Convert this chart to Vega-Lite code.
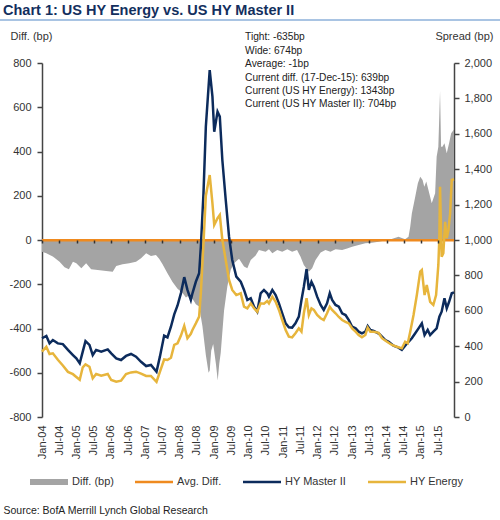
{
  "$schema": "https://vega.github.io/schema/vega-lite/v6.json",
  "width": 412,
  "height": 354,
  "autosize": {"type": "none"},
  "padding": {"left": 42, "top": 63, "right": 46, "bottom": 103},
  "background": "white",
  "config": {"view": {"stroke": null}, "font": "Liberation Sans", "axis": {"labelOverlap": false}, "axisQuantitative": {"labelOverlap": false}},
  "title": {
    "text": "Chart 1: US HY Energy vs. US HY Master II",
    "anchor": "start",
    "frame": "group",
    "font": "Liberation Sans",
    "fontSize": 14.5,
    "fontWeight": "bold",
    "color": "#132f5e",
    "dx": -39,
    "dy": 3,
    "offset": 4
  },
  "datasets": {
    "master": [
      {"date": "2004-01-01", "spread": 445}, {"date": "2004-02-16", "spread": 458}, {"date": "2004-03-21", "spread": 416},
      {"date": "2004-04-25", "spread": 435}, {"date": "2004-06-17", "spread": 416}, {"date": "2004-08-09", "spread": 412},
      {"date": "2004-10-02", "spread": 379}, {"date": "2004-11-24", "spread": 350}, {"date": "2004-12-30", "spread": 331},
      {"date": "2005-02-04", "spread": 303}, {"date": "2005-03-08", "spread": 369}, {"date": "2005-04-06", "spread": 429},
      {"date": "2005-05-18", "spread": 407}, {"date": "2005-06-22", "spread": 350}, {"date": "2005-07-28", "spread": 379},
      {"date": "2005-09-20", "spread": 369}, {"date": "2005-11-28", "spread": 382}, {"date": "2006-01-04", "spread": 360},
      {"date": "2006-02-26", "spread": 331}, {"date": "2006-04-18", "spread": 322}, {"date": "2006-06-10", "spread": 345},
      {"date": "2006-08-02", "spread": 356}, {"date": "2006-09-24", "spread": 341}, {"date": "2006-11-16", "spread": 312},
      {"date": "2007-01-09", "spread": 288}, {"date": "2007-03-01", "spread": 294}, {"date": "2007-04-29", "spread": 256},
      {"date": "2007-06-04", "spread": 341}, {"date": "2007-07-19", "spread": 460}, {"date": "2007-08-23", "spread": 450},
      {"date": "2007-09-29", "spread": 510}, {"date": "2007-11-03", "spread": 580}, {"date": "2007-12-08", "spread": 630},
      {"date": "2008-01-13", "spread": 700}, {"date": "2008-02-17", "spread": 790}, {"date": "2008-03-22", "spread": 718},
      {"date": "2008-04-27", "spread": 661}, {"date": "2008-05-14", "spread": 699}, {"date": "2008-06-19", "spread": 764},
      {"date": "2008-07-24", "spread": 812}, {"date": "2008-08-11", "spread": 962}, {"date": "2008-09-08", "spread": 1264},
      {"date": "2008-10-03", "spread": 1640}, {"date": "2008-11-13", "spread": 1960}, {"date": "2008-12-12", "spread": 1810},
      {"date": "2008-12-31", "spread": 1612}, {"date": "2009-02-04", "spread": 1725}, {"date": "2009-02-28", "spread": 1697},
      {"date": "2009-03-27", "spread": 1452}, {"date": "2009-05-02", "spread": 1226}, {"date": "2009-06-06", "spread": 1019},
      {"date": "2009-07-10", "spread": 887}, {"date": "2009-08-22", "spread": 793}, {"date": "2009-10-08", "spread": 764},
      {"date": "2009-11-12", "spread": 718}, {"date": "2009-12-17", "spread": 661}, {"date": "2010-01-22", "spread": 671},
      {"date": "2010-02-26", "spread": 623}, {"date": "2010-04-01", "spread": 595}, {"date": "2010-05-07", "spread": 699},
      {"date": "2010-06-11", "spread": 718}, {"date": "2010-07-16", "spread": 699}, {"date": "2010-08-03", "spread": 680},
      {"date": "2010-09-08", "spread": 718}, {"date": "2010-10-13", "spread": 689}, {"date": "2010-11-17", "spread": 642},
      {"date": "2010-12-22", "spread": 586}, {"date": "2011-01-27", "spread": 529}, {"date": "2011-03-02", "spread": 507},
      {"date": "2011-04-06", "spread": 505}, {"date": "2011-05-11", "spread": 529}, {"date": "2011-06-16", "spread": 567},
      {"date": "2011-07-14", "spread": 661}, {"date": "2011-08-08", "spread": 736}, {"date": "2011-09-06", "spread": 836},
      {"date": "2011-09-30", "spread": 718}, {"date": "2011-10-28", "spread": 764}, {"date": "2011-11-22", "spread": 736},
      {"date": "2011-12-27", "spread": 680}, {"date": "2012-02-02", "spread": 633}, {"date": "2012-03-06", "spread": 605},
      {"date": "2012-04-10", "spread": 642}, {"date": "2012-05-09", "spread": 699}, {"date": "2012-06-03", "spread": 661},
      {"date": "2012-07-09", "spread": 633}, {"date": "2012-08-13", "spread": 623}, {"date": "2012-09-17", "spread": 586},
      {"date": "2012-10-23", "spread": 576}, {"date": "2012-11-27", "spread": 548}, {"date": "2013-01-01", "spread": 510},
      {"date": "2013-02-07", "spread": 501}, {"date": "2013-03-11", "spread": 482}, {"date": "2013-04-15", "spread": 473},
      {"date": "2013-05-21", "spread": 482}, {"date": "2013-06-15", "spread": 514}, {"date": "2013-07-13", "spread": 492},
      {"date": "2013-08-17", "spread": 486}, {"date": "2013-10-15", "spread": 470}, {"date": "2013-12-19", "spread": 435},
      {"date": "2014-01-24", "spread": 425}, {"date": "2014-03-16", "spread": 403}, {"date": "2014-05-08", "spread": 392},
      {"date": "2014-06-12", "spread": 379}, {"date": "2014-07-17", "spread": 403}, {"date": "2014-08-22", "spread": 425},
      {"date": "2014-09-26", "spread": 445}, {"date": "2014-11-01", "spread": 473}, {"date": "2014-12-06", "spread": 501},
      {"date": "2015-01-10", "spread": 529}, {"date": "2015-02-08", "spread": 463}, {"date": "2015-03-13", "spread": 492},
      {"date": "2015-04-08", "spread": 463}, {"date": "2015-05-12", "spread": 482}, {"date": "2015-06-16", "spread": 501},
      {"date": "2015-07-15", "spread": 567}, {"date": "2015-08-08", "spread": 595}, {"date": "2015-09-07", "spread": 671},
      {"date": "2015-10-01", "spread": 614}, {"date": "2015-10-26", "spread": 651}, {"date": "2015-11-23", "spread": 699},
      {"date": "2015-12-17", "spread": 704}
    ],
    "energy": [
      {"date": "2004-01-01", "spread": 369}, {"date": "2004-02-16", "spread": 397}, {"date": "2004-03-21", "spread": 356},
      {"date": "2004-04-25", "spread": 360}, {"date": "2004-06-17", "spread": 323}, {"date": "2004-08-09", "spread": 291},
      {"date": "2004-10-02", "spread": 255}, {"date": "2004-11-24", "spread": 242}, {"date": "2004-12-30", "spread": 226},
      {"date": "2005-02-04", "spread": 210}, {"date": "2005-03-08", "spread": 281}, {"date": "2005-04-06", "spread": 297},
      {"date": "2005-05-18", "spread": 284}, {"date": "2005-06-22", "spread": 219}, {"date": "2005-07-28", "spread": 243},
      {"date": "2005-09-20", "spread": 233}, {"date": "2005-11-28", "spread": 243}, {"date": "2006-01-04", "spread": 209},
      {"date": "2006-02-26", "spread": 199}, {"date": "2006-04-18", "spread": 205}, {"date": "2006-06-10", "spread": 243},
      {"date": "2006-08-02", "spread": 252}, {"date": "2006-09-24", "spread": 256}, {"date": "2006-11-16", "spread": 245},
      {"date": "2007-01-09", "spread": 232}, {"date": "2007-03-01", "spread": 232}, {"date": "2007-04-29", "spread": 199},
      {"date": "2007-06-04", "spread": 255}, {"date": "2007-07-19", "spread": 325}, {"date": "2007-08-23", "spread": 322},
      {"date": "2007-09-29", "spread": 335}, {"date": "2007-11-03", "spread": 407}, {"date": "2007-12-08", "spread": 416},
      {"date": "2008-01-13", "spread": 460}, {"date": "2008-02-17", "spread": 515}, {"date": "2008-03-22", "spread": 445},
      {"date": "2008-04-27", "spread": 470}, {"date": "2008-05-14", "spread": 492}, {"date": "2008-06-19", "spread": 529},
      {"date": "2008-07-24", "spread": 567}, {"date": "2008-08-11", "spread": 699}, {"date": "2008-09-08", "spread": 980},
      {"date": "2008-10-03", "spread": 1250}, {"date": "2008-11-13", "spread": 1367}, {"date": "2008-12-12", "spread": 1207},
      {"date": "2008-12-31", "spread": 1085}, {"date": "2009-02-04", "spread": 1123}, {"date": "2009-02-28", "spread": 1141},
      {"date": "2009-03-27", "spread": 1000}, {"date": "2009-05-02", "spread": 887}, {"date": "2009-06-06", "spread": 774},
      {"date": "2009-07-10", "spread": 718}, {"date": "2009-08-22", "spread": 689}, {"date": "2009-10-08", "spread": 699},
      {"date": "2009-11-12", "spread": 623}, {"date": "2009-12-17", "spread": 614}, {"date": "2010-01-22", "spread": 642},
      {"date": "2010-02-26", "spread": 614}, {"date": "2010-04-01", "spread": 595}, {"date": "2010-05-07", "spread": 642},
      {"date": "2010-06-11", "spread": 640}, {"date": "2010-07-16", "spread": 655}, {"date": "2010-08-03", "spread": 642},
      {"date": "2010-09-08", "spread": 680}, {"date": "2010-10-13", "spread": 651}, {"date": "2010-11-17", "spread": 605},
      {"date": "2010-12-22", "spread": 548}, {"date": "2011-01-27", "spread": 492}, {"date": "2011-03-02", "spread": 454},
      {"date": "2011-04-06", "spread": 450}, {"date": "2011-05-11", "spread": 473}, {"date": "2011-06-16", "spread": 501},
      {"date": "2011-07-14", "spread": 482}, {"date": "2011-08-08", "spread": 586}, {"date": "2011-09-06", "spread": 671},
      {"date": "2011-09-30", "spread": 576}, {"date": "2011-10-28", "spread": 614}, {"date": "2011-11-22", "spread": 605},
      {"date": "2011-12-27", "spread": 576}, {"date": "2012-02-02", "spread": 558}, {"date": "2012-03-06", "spread": 548},
      {"date": "2012-04-10", "spread": 586}, {"date": "2012-05-09", "spread": 623}, {"date": "2012-06-03", "spread": 605},
      {"date": "2012-07-09", "spread": 586}, {"date": "2012-08-13", "spread": 565}, {"date": "2012-09-17", "spread": 548},
      {"date": "2012-10-23", "spread": 538}, {"date": "2012-11-27", "spread": 529}, {"date": "2013-01-01", "spread": 501},
      {"date": "2013-02-07", "spread": 482}, {"date": "2013-03-11", "spread": 463}, {"date": "2013-04-15", "spread": 450},
      {"date": "2013-05-21", "spread": 463}, {"date": "2013-06-15", "spread": 505}, {"date": "2013-07-13", "spread": 482},
      {"date": "2013-08-17", "spread": 482}, {"date": "2013-10-09", "spread": 476}, {"date": "2013-11-13", "spread": 445},
      {"date": "2014-01-06", "spread": 425}, {"date": "2014-02-27", "spread": 407}, {"date": "2014-04-20", "spread": 397},
      {"date": "2014-06-12", "spread": 388}, {"date": "2014-07-17", "spread": 425}, {"date": "2014-08-14", "spread": 416},
      {"date": "2014-09-09", "spread": 482}, {"date": "2014-10-14", "spread": 576}, {"date": "2014-11-18", "spread": 689},
      {"date": "2014-12-24", "spread": 821}, {"date": "2015-01-10", "spread": 830}, {"date": "2015-02-08", "spread": 689},
      {"date": "2015-03-03", "spread": 746}, {"date": "2015-04-08", "spread": 651}, {"date": "2015-05-12", "spread": 633},
      {"date": "2015-06-10", "spread": 689}, {"date": "2015-07-04", "spread": 859}, {"date": "2015-07-15", "spread": 1019},
      {"date": "2015-07-22", "spread": 1301}, {"date": "2015-08-08", "spread": 905}, {"date": "2015-08-26", "spread": 925},
      {"date": "2015-09-14", "spread": 1103}, {"date": "2015-10-01", "spread": 1010}, {"date": "2015-10-19", "spread": 1056},
      {"date": "2015-11-06", "spread": 1151}, {"date": "2015-11-23", "spread": 1339}, {"date": "2015-12-17", "spread": 1343}
    ],
    "diff": [
      {"date": "2004-01-01", "diff": -53}, {"date": "2004-02-16", "diff": -60}, {"date": "2004-04-25", "diff": -75},
      {"date": "2004-07-05", "diff": -98}, {"date": "2004-08-27", "diff": -123}, {"date": "2004-10-12", "diff": -132},
      {"date": "2004-11-24", "diff": -98}, {"date": "2004-12-30", "diff": -105}, {"date": "2005-02-21", "diff": -128},
      {"date": "2005-04-13", "diff": -105}, {"date": "2005-06-05", "diff": -132}, {"date": "2005-08-14", "diff": -136},
      {"date": "2005-11-11", "diff": -140}, {"date": "2006-01-20", "diff": -143}, {"date": "2006-02-26", "diff": -118},
      {"date": "2006-05-04", "diff": -110}, {"date": "2006-07-14", "diff": -105}, {"date": "2006-09-24", "diff": -98},
      {"date": "2006-11-16", "diff": -83}, {"date": "2007-01-09", "diff": -60}, {"date": "2007-03-01", "diff": -72},
      {"date": "2007-04-23", "diff": -68}, {"date": "2007-05-27", "diff": -85}, {"date": "2007-07-02", "diff": -110},
      {"date": "2007-08-23", "diff": -150}, {"date": "2007-10-16", "diff": -190}, {"date": "2007-12-08", "diff": -220},
      {"date": "2008-01-30", "diff": -240}, {"date": "2008-03-06", "diff": -260}, {"date": "2008-04-10", "diff": -250},
      {"date": "2008-05-14", "diff": -265}, {"date": "2008-06-19", "diff": -290}, {"date": "2008-07-24", "diff": -300},
      {"date": "2008-08-28", "diff": -390}, {"date": "2008-10-03", "diff": -520}, {"date": "2008-11-01", "diff": -600},
      {"date": "2008-11-13", "diff": -590}, {"date": "2008-11-29", "diff": -500}, {"date": "2008-12-20", "diff": -470},
      {"date": "2009-01-18", "diff": -560}, {"date": "2009-02-06", "diff": -635}, {"date": "2009-02-22", "diff": -560},
      {"date": "2009-03-10", "diff": -510}, {"date": "2009-04-14", "diff": -320}, {"date": "2009-05-19", "diff": -210},
      {"date": "2009-06-24", "diff": -135}, {"date": "2009-07-29", "diff": -105}, {"date": "2009-09-20", "diff": -85},
      {"date": "2009-11-12", "diff": -120}, {"date": "2009-12-17", "diff": -128}, {"date": "2010-01-22", "diff": -90},
      {"date": "2010-03-15", "diff": -70}, {"date": "2010-04-19", "diff": -45}, {"date": "2010-06-29", "diff": -53},
      {"date": "2010-08-03", "diff": -42}, {"date": "2010-09-08", "diff": -60}, {"date": "2010-10-30", "diff": -45},
      {"date": "2010-12-22", "diff": -53}, {"date": "2011-02-14", "diff": -42}, {"date": "2011-04-06", "diff": -53},
      {"date": "2011-05-28", "diff": -45}, {"date": "2011-07-03", "diff": -75}, {"date": "2011-08-08", "diff": -113},
      {"date": "2011-09-30", "diff": -143}, {"date": "2011-11-04", "diff": -128}, {"date": "2011-12-10", "diff": -90},
      {"date": "2012-02-02", "diff": -57}, {"date": "2012-03-24", "diff": -45}, {"date": "2012-05-16", "diff": -53},
      {"date": "2012-07-09", "diff": -42}, {"date": "2012-09-17", "diff": -45}, {"date": "2012-11-09", "diff": -38},
      {"date": "2013-01-01", "diff": -30}, {"date": "2013-03-11", "diff": -23}, {"date": "2013-05-21", "diff": -15},
      {"date": "2013-07-30", "diff": -12}, {"date": "2013-10-09", "diff": -8}, {"date": "2013-12-12", "diff": -2},
      {"date": "2014-02-24", "diff": 5}, {"date": "2014-05-08", "diff": 15}, {"date": "2014-06-19", "diff": 8},
      {"date": "2014-07-17", "diff": 3}, {"date": "2014-08-22", "diff": 15}, {"date": "2014-09-09", "diff": 60},
      {"date": "2014-09-26", "diff": 120}, {"date": "2014-11-01", "diff": 196}, {"date": "2014-11-29", "diff": 256},
      {"date": "2014-12-24", "diff": 286}, {"date": "2015-01-18", "diff": 271}, {"date": "2015-02-05", "diff": 241},
      {"date": "2015-02-26", "diff": 264}, {"date": "2015-03-21", "diff": 226}, {"date": "2015-04-25", "diff": 166},
      {"date": "2015-05-31", "diff": 211}, {"date": "2015-06-16", "diff": 376}, {"date": "2015-07-04", "diff": 422},
      {"date": "2015-07-15", "diff": 573}, {"date": "2015-07-22", "diff": 674}, {"date": "2015-08-02", "diff": 422},
      {"date": "2015-08-16", "diff": 422}, {"date": "2015-09-07", "diff": 437}, {"date": "2015-10-01", "diff": 392},
      {"date": "2015-10-26", "diff": 437}, {"date": "2015-11-17", "diff": 482}, {"date": "2015-12-17", "diff": 500}
    ]
  },
  "layer": [
    {
      "layer": [
        {
          "data": {"name": "diff"},
          "mark": {"type": "area", "interpolate": "linear"},
          "encoding": {
            "x": {
              "field": "date", "type": "temporal",
              "scale": {"type": "utc", "domain": [{"year": 2004, "month": 1, "date": 1, "utc": true}, {"year": 2015, "month": 12, "date": 17, "utc": true}]},
              "axis": {"orient": "bottom", "offset": -177, "zindex": 2, "labels": false, "domain": false, "ticks": true, "tickSize": 3, "tickWidth": 1.5, "tickColor": "#333333", "grid": false, "title": null, "tickCount": {"interval": "month", "step": 6}}
            },
            "y": {
              "field": "diff", "type": "quantitative",
              "scale": {"domain": [-800, 800], "nice": false, "zero": true},
              "axis": {
                "orient": "left", "values": [-800, -600, -400, -200, 0, 200, 400, 600, 800],
                "labelExpr": "datum.value + ''", "grid": false, "labelOverlap": false,
                "domainColor": "#444444", "domainWidth": 1.5, "tickColor": "#444444", "tickWidth": 1.5, "tickSize": 5,
                "labelPadding": 6, "labelFontSize": 11, "labelColor": "#333333", "labelFont": "Liberation Sans",
                "title": "Diff. (bp)", "titleAngle": 0, "titleX": -32, "titleY": -27, "titleAlign": "left", "titleBaseline": "middle",
                "titleFontWeight": "normal", "titleFontSize": 11, "titleColor": "#333333", "titleFont": "Liberation Sans"
              }
            },
            "color": {
              "datum": "Diff. (bp)",
              "scale": {"domain": ["Diff. (bp)", "Avg. Diff.", "HY Master II", "HY Energy"], "range": ["#a4a4a4", "#ef8a1f", "#0c2b5c", "#e7b53c"]},
              "legend": {
                "orient": "none", "legendX": -12, "legendY": 400, "direction": "horizontal", "columns": 4, "title": null,
                "symbolSize": 1444, "labelFont": "Liberation Sans", "labelFontSize": 11, "labelColor": "#333333", "labelOffset": 4, "columnPadding": 21,
                "encode": {
                  "symbols": {
                    "update": {
                      "shape": {"signal": "datum.value === 'Diff. (bp)' ? 'M-1,-0.16L1,-0.16L1,0.16L-1,0.16Z' : 'M-1,-0.07L1,-0.07L1,0.07L-1,0.07Z'"},
                      "fill": {"scale": "color", "field": "value"},
                      "stroke": {"value": "transparent"},
                      "strokeWidth": {"value": 0},
                      "size": {"value": 1444},
                      "opacity": {"value": 1}
                    }
                  }
                }
              }
            }
          }
        },
        {
          "data": {"values": [{}]},
          "mark": {"type": "rule", "strokeWidth": 2.5},
          "encoding": {"y": {"datum": -1}, "color": {"datum": "Avg. Diff."}}
        },
        {
          "data": {"values": [{}]},
          "mark": {"type": "rule", "color": "#8cb0da", "strokeWidth": 1.5, "clip": false},
          "encoding": {
            "x": {"datum": {"year": 2002, "month": 8, "date": 1, "utc": true}},
            "x2": {"datum": {"year": 2017, "month": 7, "date": 1, "utc": true}},
            "y": {"datum": 994}
          }
        },
        {
          "data": {"values": [{}]},
          "mark": {
            "type": "text", "align": "left", "baseline": "top", "lineHeight": 13.4,
            "font": "Liberation Sans", "fontSize": 10.2, "color": "#222222",
            "text": ["Tight: -635bp", "Wide: 674bp", "Average: -1bp", "Current diff. (17-Dec-15): 639bp", "Current (US HY Energy): 1343bp", "Current (US HY Master II): 704bp"]
          },
          "encoding": {
            "x": {"datum": {"year": 2009, "month": 11, "date": 23, "utc": true}},
            "y": {"datum": 938}
          }
        }
      ]
    },
    {
      "encoding": {
        "x": {
          "field": "date", "type": "temporal",
          "scale": {"type": "utc", "domain": [{"year": 2004, "month": 1, "date": 1, "utc": true}, {"year": 2015, "month": 12, "date": 17, "utc": true}]},
          "axis": {
            "orient": "bottom", "labelAngle": -90, "format": "%b-%y", "ticks": false, "domain": false, "grid": false,
            "labelPadding": 8, "labelFontSize": 11, "labelColor": "#333333", "labelFont": "Liberation Sans",
            "tickCount": {"interval": "month", "step": 6}, "labelOverlap": false,
            "title": "Source: BofA Merrill Lynch Global Research", "titleX": -39, "titleY": 93, "titleAlign": "left", "titleAnchor": "start",
            "titleBaseline": "middle", "titleFont": "Liberation Sans", "titleFontSize": 10.5, "titleFontWeight": "normal", "titleColor": "#222222"
          }
        },
        "y": {
          "field": "spread", "type": "quantitative",
          "scale": {"domain": [0, 2000], "nice": false},
          "axis": {
            "orient": "right", "values": [0, 200, 400, 600, 800, 1000, 1200, 1400, 1600, 1800, 2000],
            "labelExpr": "datum.value >= 1000 ? floor(datum.value / 1000) + ',' + substring('' + datum.value, 1) : '' + datum.value",
            "grid": false, "labelOverlap": false, "labelSeparation": 0, "labelFlush": false,
            "domainColor": "#444444", "domainWidth": 1.5, "tickColor": "#444444", "tickWidth": 1.5, "tickSize": 5,
            "labelPadding": 5, "labelFontSize": 11, "labelColor": "#333333", "labelFont": "Liberation Sans",
            "title": "Spread (bp)", "titleAngle": 0, "titleX": 39, "titleY": -27, "titleAlign": "right", "titleBaseline": "middle",
            "titleFontWeight": "normal", "titleFontSize": 11, "titleColor": "#333333", "titleFont": "Liberation Sans"
          }
        }
      },
      "layer": [
        {
          "data": {"name": "master"},
          "mark": {"type": "line", "strokeWidth": 2.5},
          "encoding": {"color": {"datum": "HY Master II"}}
        },
        {
          "data": {"name": "energy"},
          "mark": {"type": "line", "strokeWidth": 2.5},
          "encoding": {"color": {"datum": "HY Energy"}}
        }
      ]
    }
  ],
  "resolve": {"scale": {"y": "independent"}, "axis": {"x": "independent"}}
}
